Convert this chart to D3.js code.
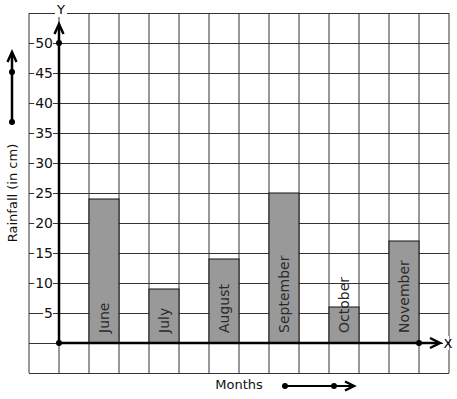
<!DOCTYPE html>
<html lang="en">
	<head>
		<meta charset="utf-8">
		<title>Rainfall</title>
		<script type="text/javascript" src="https://cdn.jsdelivr.net/npm/d3@7"></script>
		<style>
			body { margin: 0; background: #fff; }
			text { font-family: "DejaVu Sans", sans-serif; }
		</style>
	</head>
	<body>
		<script type="text/javascript">
			var months = ["June", "July", "August", "September", "October", "November"];
			var rainfall = [24, 9, 14, 25, 6, 17];
			var yTicks = [5, 10, 15, 20, 25, 30, 35, 40, 45, 50];

			var w = 457;
			var h = 399;

			var svg = d3.select("body")
						.append("svg")
						.attr("width", w)
						.attr("height", h);

			//Scales
			var x = d3.scaleBand()
						.domain(months)
						.range([59, 419]);
			var y = d3.scaleLinear()
						.domain([0, 50])
						.range([343, 43]);
			//grid columns (one column = half a band)
			var gx = d3.scaleLinear().domain([0, 14]).range([29, 449]);

			//Grid
			svg.append("g").selectAll("line")
				.data(d3.range(0, 15))
				.enter()
				.append("line")
				.attr("x1", function(d) { return gx(d); })
				.attr("x2", function(d) { return gx(d); })
				.attr("y1", y(55))
				.attr("y2", y(-5))
				.attr("stroke", "#333")
				.attr("stroke-width", 1);
			svg.append("g").selectAll("line")
				.data(d3.range(-5, 56, 5))
				.enter()
				.append("line")
				.attr("x1", gx(0))
				.attr("x2", gx(14))
				.attr("y1", function(d) { return y(d) + 0.5; })
				.attr("y2", function(d) { return y(d) + 0.5; })
				.attr("stroke", "#333")
				.attr("stroke-width", 1);

			//Bars
			svg.selectAll("rect.bar")
				.data(rainfall)
				.enter()
				.append("rect")
				.attr("class", "bar")
				.attr("x", function(d, i) { return x(months[i]) + x.bandwidth() / 2; })
				.attr("y", function(d) { return y(d); })
				.attr("width", x.bandwidth() / 2)
				.attr("height", function(d) { return y(0) - y(d); })
				.attr("fill", "#999")
				.attr("stroke", "#111")
				.attr("stroke-width", 1);

			//Bar labels
			svg.selectAll("text.blabel")
				.data(months)
				.enter()
				.append("text")
				.attr("class", "blabel")
				.attr("transform", function(d) {
					var cx = x(d) + x.bandwidth() * 3 / 4 + 4.5;
					return "translate(" + cx + "," + (y(0) - 10) + ") rotate(-90)";
				})
				.attr("font-size", "14px")
				.attr("fill", "#2a2a2a")
				.text(function(d) { return d; });

			//Y tick labels with white boxes
			var tg = svg.append("g");
			yTicks.forEach(function(t) {
				var txt = tg.append("text")
					.attr("x", 53)
					.attr("y", y(t) + 5)
					.attr("text-anchor", "end")
					.attr("font-size", "14px")
					.attr("fill", "#111")
					.text(t);
				var bb = txt.node().getBBox();
				tg.insert("rect", "text")
					.attr("x", bb.x - 1)
					.attr("y", y(t) - 3)
					.attr("width", bb.width + 1)
					.attr("height", 6)
					.attr("fill", "#fff");
			});

			//Axes
			var axisColor = "#000";
			svg.append("line")
				.attr("x1", x.range()[0]).attr("x2", x.range()[0])
				.attr("y1", y(0)).attr("y2", 26)
				.attr("stroke", axisColor).attr("stroke-width", 2.5);
			svg.append("line")
				.attr("x1", x.range()[0]).attr("x2", 438)
				.attr("y1", y(0)).attr("y2", y(0))
				.attr("stroke", axisColor).attr("stroke-width", 2.5);

			function chevron(pts) {
				svg.append("polyline")
					.attr("points", pts.map(function(p) { return p.join(","); }).join(" "))
					.attr("fill", "none")
					.attr("stroke", "#000")
					.attr("stroke-width", 2.5)
					.attr("stroke-linejoin", "miter");
			}
			function dot(cx, cy) {
				svg.append("circle")
					.attr("cx", cx).attr("cy", cy).attr("r", 3)
					.attr("fill", "#000");
			}

			chevron([[54.5, 34], [59, 24], [63.5, 34]]);
			chevron([[430, 338], [440, 343], [430, 348]]);
			dot(59, y(50));
			dot(59, y(0));
			dot(419, y(0));

			//Axis letters
			svg.append("rect").attr("x", 55).attr("y", 9).attr("width", 12).attr("height", 8).attr("fill", "#fff");
			svg.append("text")
				.attr("x", 61).attr("y", 14)
				.attr("text-anchor", "middle")
				.attr("font-size", "13px")
				.text("Y");
			svg.append("rect").attr("x", 443).attr("y", 336).attr("width", 6).attr("height", 14).attr("fill", "#fff");
			svg.append("text")
				.attr("x", 448).attr("y", 348)
				.attr("text-anchor", "middle")
				.attr("font-size", "13px")
				.text("X");

			//Y title + arrow
			svg.append("text")
				.attr("transform", "translate(17,193) rotate(-90)")
				.attr("text-anchor", "middle")
				.attr("font-size", "13px")
				.attr("fill", "#111")
				.text("Rainfall (in cm)");
			svg.append("line")
				.attr("x1", 12).attr("x2", 12).attr("y1", 122).attr("y2", 53)
				.attr("stroke", "#000").attr("stroke-width", 2.5);
			chevron([[7.5, 62], [12, 52], [16.5, 62]]);
			dot(12, 72);
			dot(12, 122);

			//X title + arrow
			svg.append("text")
				.attr("x", 239).attr("y", 389)
				.attr("text-anchor", "middle")
				.attr("font-size", "13px")
				.attr("fill", "#111")
				.text("Months");
			svg.append("line")
				.attr("x1", 284).attr("x2", 352).attr("y1", 386).attr("y2", 386)
				.attr("stroke", "#000").attr("stroke-width", 2);
			chevron([[345, 381.5], [354, 386], [345, 390.5]]);
			dot(285, 386);
			dot(334, 386);
		</script>
	</body>
</html>
